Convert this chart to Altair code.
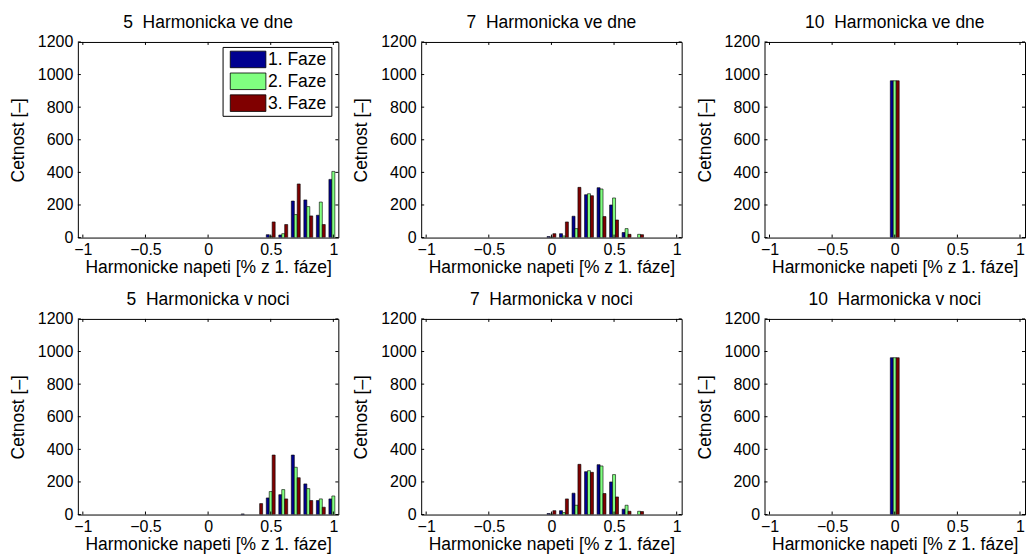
import altair as alt
import pandas as pd

# ---------------- data ----------------
PHASES = ["1. Faze", "2. Faze", "3. Faze"]
COLORS = ["#000090", "#80FF80", "#800000"]

XTICKS = [-1, -0.5, 0, 0.5, 1]
YTICKS = [0, 200, 400, 600, 800, 1000, 1200]

TITLE_5_DEN = "5\u00a0 Harmonicka ve dne"
TITLE_7_DEN = "7\u00a0 Harmonicka ve dne"
TITLE_10_DEN = "10\u00a0 Harmonicka ve dne"
TITLE_5_NOC = "5\u00a0 Harmonicka v noci"
TITLE_7_NOC = "7\u00a0 Harmonicka v noci"
TITLE_10_NOC = "10\u00a0 Harmonicka v noci"

XLABEL = "Harmonicke napeti [% z 1. fáze]"
YLABEL = "Cetnost [–]"

# 5th harmonic, day
BINS_5_DEN = [0.5, 0.6, 0.7, 0.8, 0.9, 1.0]
F1_5_DEN = [18, 16, 224, 231, 137, 357]
F2_5_DEN = [8, 24, 141, 190, 218, 406]
F3_5_DEN = [96, 80, 329, 133, 80, None]

# 7th harmonic, day
BINS_7_DEN = [0.0, 0.1, 0.2, 0.3, 0.4, 0.5, 0.6, 0.7]
F1_7_DEN = [6, 24, 131, 263, 306, 200, 31, 0]
F2_7_DEN = [3, 10, 55, 269, 298, 243, 55, 20]
F3_7_DEN = [24, 96, 308, 257, 129, 108, 20, 18]

# 10th harmonic, day
BINS_10_DEN = [0.0]
F1_10_DEN = [962]
F2_10_DEN = [962]
F3_10_DEN = [962]

# 5th harmonic, night
BINS_5_NOC = [0.3, 0.4, 0.5, 0.6, 0.7, 0.8, 0.9, 1.0]
F1_5_NOC = [4, 0, 102, 122, 365, 188, 86, 96]
F2_5_NOC = [0, 0, 141, 153, 290, 159, 96, 114]
F3_5_NOC = [0, 67, 365, 96, 226, 86, 45, None]

# 7th harmonic, night
BINS_7_NOC = [0.0, 0.1, 0.2, 0.3, 0.4, 0.5, 0.6, 0.7]
F1_7_NOC = [6, 24, 131, 263, 306, 200, 33, 0]
F2_7_NOC = [3, 12, 57, 269, 298, 245, 57, 20]
F3_7_NOC = [24, 96, 308, 259, 129, 108, 20, 18]

# 10th harmonic, night
BINS_10_NOC = [0.0]
F1_10_NOC = [962]
F2_10_NOC = [962]
F3_10_NOC = [962]

# ---------------- layout ----------------
W, H = 261, 196
FONT = "Liberation Sans"
TICK_FS = 16
LABEL_FS = 17.5
BAR_STEP = 0.0235  # offset between the three bars of a group (data units)

XSCALE = alt.Scale(domain=[-1, 1], nice=False, zero=False)
YSCALE = alt.Scale(domain=[0, 1200], nice=False)
XAXIS = alt.Axis(values=XTICKS, format="~g", title=XLABEL, labelPadding=4, titlePadding=1,
                 titleFontWeight="normal", titleFontSize=LABEL_FS)
YAXIS = alt.Axis(values=YTICKS, format="d", title=YLABEL, labelPadding=5, titlePadding=10,
                 titleFontWeight="normal", titleFontSize=LABEL_FS)


def panel(title, bins, f1, f2, f3, legend=False):
    rows = []
    for i, b in enumerate(bins):
        for k, vals in enumerate((f1, f2, f3)):
            v = vals[i]
            if v is None or v == 0:
                continue
            rows.append({"bin": b, "phase": PHASES[k], "k": k, "count": v})
    df = pd.DataFrame(rows)

    bars = (
        alt.Chart(df)
        .transform_calculate(xpos=f"datum.bin + (datum.k - 1) * {BAR_STEP}")
        .mark_bar(size=3, stroke="black", strokeWidth=0.6, clip=True, orient="vertical")
        .encode(
            x=alt.X("xpos:Q", scale=XSCALE, axis=XAXIS),
            y=alt.Y("count:Q", scale=YSCALE, axis=YAXIS),
            color=alt.Color("phase:N", scale=alt.Scale(domain=PHASES, range=COLORS),
                            legend=None),
        )
    )

    xt = alt.Chart(pd.DataFrame({"t": XTICKS}))
    yt = alt.Chart(pd.DataFrame({"t": YTICKS}))
    tx = alt.X("t:Q", scale=XSCALE, axis=XAXIS)
    ty = alt.Y("t:Q", scale=YSCALE, axis=YAXIS)
    ticks = [
        xt.mark_rule(color="black").encode(x=tx, y=alt.value(H), y2=alt.value(H - 3)),
        xt.mark_rule(color="black").encode(x=tx, y=alt.value(0), y2=alt.value(3)),
        yt.mark_rule(color="black").encode(y=ty, x=alt.value(0), x2=alt.value(3)),
        yt.mark_rule(color="black").encode(y=ty, x=alt.value(W - 3), x2=alt.value(W)),
    ]

    layers = [bars] + ticks

    if legend:
        leg = pd.DataFrame({"phase": PHASES, "k": [0, 1, 2]})
        box = alt.Chart(leg.head(1)).mark_rect(fill="white", stroke="black", strokeWidth=1).encode(
            x=alt.value(145.5), x2=alt.value(254.5), y=alt.value(5.5), y2=alt.value(74.5)
        )
        sw = (
            alt.Chart(leg)
            .transform_calculate(ys="9.2 + datum.k * 21.9", ye="9.2 + datum.k * 21.9 + 16.6")
            .mark_rect(stroke="black", strokeWidth=0.8)
            .encode(
                x=alt.value(152.7), x2=alt.value(188.4),
                y=alt.Y("ys:Q", scale=None), y2=alt.Y2("ye:Q"),
                color=alt.Color("phase:N", scale=alt.Scale(domain=PHASES, range=COLORS), legend=None),
            )
        )
        tx_ = (
            alt.Chart(leg)
            .transform_calculate(ym="18 + datum.k * 21.9")
            .mark_text(align="left", baseline="middle", font=FONT, fontSize=17.5, color="black")
            .encode(x=alt.value(190.5), y=alt.Y("ym:Q", scale=None), text="phase:N")
        )
        layers += [box, sw, tx_]

    return alt.layer(*layers).properties(
        width=W, height=H,
        title=alt.TitleParams(title, font=FONT, fontSize=LABEL_FS, fontWeight="normal",
                              color="black", offset=2.5),
    )


row1 = alt.hconcat(
    panel(TITLE_5_DEN, BINS_5_DEN, F1_5_DEN, F2_5_DEN, F3_5_DEN, legend=True),
    panel(TITLE_7_DEN, BINS_7_DEN, F1_7_DEN, F2_7_DEN, F3_7_DEN),
    panel(TITLE_10_DEN, BINS_10_DEN, F1_10_DEN, F2_10_DEN, F3_10_DEN),
    spacing=12,
)
row2 = alt.hconcat(
    panel(TITLE_5_NOC, BINS_5_NOC, F1_5_NOC, F2_5_NOC, F3_5_NOC),
    panel(TITLE_7_NOC, BINS_7_NOC, F1_7_NOC, F2_7_NOC, F3_7_NOC),
    panel(TITLE_10_NOC, BINS_10_NOC, F1_10_NOC, F2_10_NOC, F3_10_NOC),
    spacing=12,
)

chart = (
    alt.vconcat(row1, row2, spacing=13.5)
    .properties(padding={"left": 8, "top": 12.5, "right": 0, "bottom": 0}, background="white")
    .configure_view(stroke="black", strokeWidth=1)
    .configure_axis(
        labelFont=FONT, labelFontSize=TICK_FS, labelColor="black",
        titleFont=FONT, titleFontSize=LABEL_FS, titleFontWeight="normal", titleColor="black",
        domain=False, ticks=False, grid=False,
    )
)

chart.save("out.html", embed_options={"renderer": "svg", "actions": False})
